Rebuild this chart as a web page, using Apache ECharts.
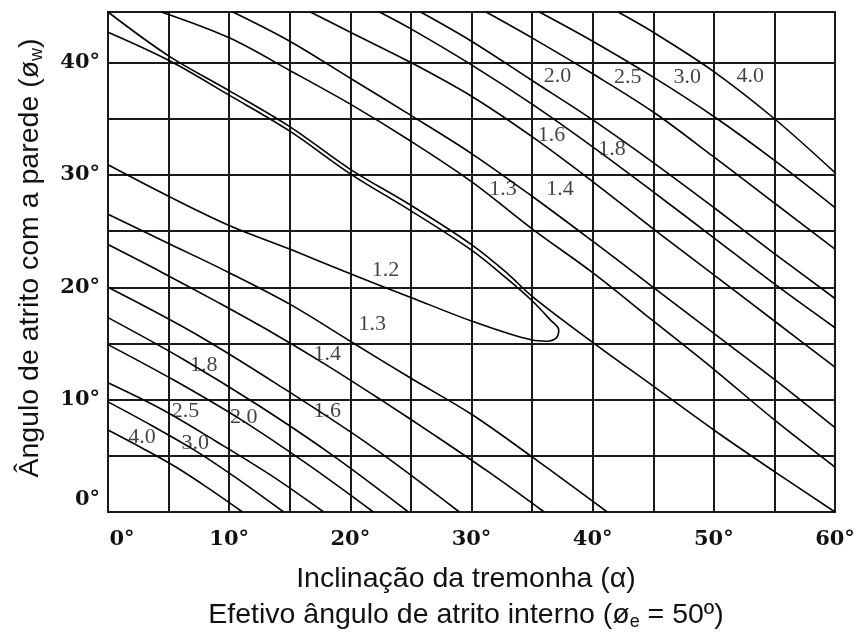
<!DOCTYPE html>
<html>
<head>
<meta charset="utf-8">
<script src="https://cdn.jsdelivr.net/npm/echarts@6/dist/echarts.min.js"></script>
<style>
html,body{margin:0;padding:0;background:#ffffff;}
#chart{width:860px;height:633px;}
</style>
</head>
<body>
<div id="chart"></div>
<script>
// ---- axis ticks / labels ----
const xTickValues = [0, 10, 20, 30, 40, 50, 60];
const yTickValues = [0, 10, 20, 30, 40];
const xTitle = 'Inclinação da tremonha (α)';
const xSubtitleParts = ['Efetivo ângulo de atrito interno (ø', 'e', ' = 50º)'];
const yTitleParts = ['Ângulo de atrito com a parede (ø', 'w', ')'];

// ---- contour curves: [alpha (deg), phi_w (deg)] ----
// upper family (values grow toward the upper right)
const upperBoundary = [[0,44.5],[5,40.6],[10,37.5],[15,34.3],[20,30.5],[25,27.3],[30,23.8],[33,21.2],[35,19.2],[40,15.1],[45,11.2],[50,7.3],[55,3.6],[60,0]];
const hairpin12 = [[0,42.7],[5,40.2],[10,37.1],[15,33.9],[20,30.1],[25,26.8],[30,23.3],[33,20.7],[35,18.8],[36.5,17.1],[37.2,16.2],[37,15.5],[36.2,15.2],[35,15.3],[30,17.0],[25,19.1],[20,21.2],[15,23.4],[10,25.5],[5,28.1],[0,30.9]];
const upper13 = [[4.4,44.5],[10,42.2],[15,39.3],[20,36.3],[25,33.0],[30,29.4],[35,25.2],[40,21.3],[45,17.0],[50,12.7],[55,8.2],[60,4.0]];
const upper14 = [[10.3,44.5],[15,41.9],[20,38.6],[25,35.3],[30,31.9],[35,28.1],[40,24.1],[45,20.0],[50,15.9],[55,11.8],[60,7.5]];
const upper16 = [[16.7,44.5],[20,42.7],[25,40.0],[30,37.0],[35,33.4],[40,29.4],[45,25.2],[50,21.1],[55,17.0],[60,12.9]];
const upper18 = [[22.4,44.5],[25,43.0],[30,39.8],[35,36.3],[40,32.5],[45,28.5],[50,24.4],[55,20.3],[60,16.4]];
const upper20 = [[25.8,44.5],[30,41.9],[35,38.4],[40,34.9],[45,31.1],[50,27.1],[55,23.0],[60,19.0]];
const upper25 = [[31.2,44.5],[35,42.2],[40,39.0],[45,35.6],[50,31.6],[55,27.5],[60,23.4]];
const upper30 = [[35.6,44.5],[40,41.9],[45,38.7],[50,35.2],[55,31.3],[60,27.1]];
const upper40 = [[42.1,44.5],[45,42.7],[50,39.2],[55,35.0],[60,30.2]];
// lower family (values grow toward the origin)
const lower13 = [[0,26.5],[5,23.9],[10,21.3],[15,18.5],[20,15.2],[25,11.9],[30,8.7],[35,4.9],[41.2,0]];
const lower14 = [[0,23.8],[4.5,21.3],[9,18.7],[13.5,16.0],[18,13.1],[22.5,10.0],[27,6.8],[31.5,3.5],[36,0]];
const lower16 = [[0,20.0],[7.3,15.8],[14.5,11.0],[21.8,5.8],[29.0,0]];
const lower18 = [[0,17.3],[6.2,13.6],[12.4,9.5],[18.6,5.0],[24.8,0]];
const lower20 = [[0,14.9],[5.5,11.7],[11.0,8.2],[16.4,4.3],[21.9,0]];
const lower25 = [[0,11.5],[4.5,9.1],[8.9,6.3],[13.4,3.3],[17.8,0]];
const lower30 = [[0,9.8],[3.6,7.7],[7.3,5.4],[10.9,2.8],[14.5,0]];
const lower40 = [[0,7.3],[2.8,5.7],[5.6,4.0],[8.3,2.1],[11.1,0]];

// ---- contour value labels: [alpha, phi_w, text] ----
const contourLabels = [
  [32.6,28.7,'1.3'],[37.3,28.7,'1.4'],[36.6,33.5,'1.6'],[41.6,32.3,'1.8'],
  [37.1,38.8,'2.0'],[42.9,38.7,'2.5'],[47.8,38.7,'3.0'],[53.0,38.8,'4.0'],
  [22.9,21.5,'1.2'],[21.8,16.7,'1.3'],[18.1,14.0,'1.4'],[18.1,9.0,'1.6'],
  [7.9,13.1,'1.8'],[11.2,8.4,'2.0'],[6.4,9.0,'2.5'],[7.2,6.1,'3.0'],[2.8,6.7,'4.0']
];

const curves = [upperBoundary, hairpin12, upper13, upper14, upper16, upper18, upper20, upper25, upper30, upper40,
  lower13, lower14, lower16, lower18, lower20, lower25, lower30, lower40];

const chart = echarts.init(document.getElementById('chart'), null, {renderer: 'canvas'});

const tickFont = {fontFamily: '"DejaVu Serif"', fontWeight: 'bold', fontSize: 21, color: '#111'};

const series = curves.map(function (c) {
  return {
    type: 'line', data: c, smooth: 0.35, symbol: 'none', showSymbol: false,
    lineStyle: {color: '#000', width: 1.6}, silent: true, animation: false, z: 3
  };
});
series.push({
  type: 'scatter',
  data: contourLabels,
  symbolSize: 1,
  itemStyle: {color: 'rgba(0,0,0,0)'},
  silent: true, animation: false, z: 5,
  label: {
    show: true, position: 'inside',
    formatter: function (p) { return p.value[2]; },
    fontFamily: '"Liberation Serif"', fontSize: 22, color: '#111'
  }
});

const option = {
  backgroundColor: '#ffffff',
  animation: false,
  grid: {left: 108, right: 25, top: 12, bottom: 121, containLabel: false, outerBoundsMode: 'none',
         show: true, borderColor: '#1a1a1a', borderWidth: 2, backgroundColor: 'transparent'},
  xAxis: {
    type: 'value', min: 0, max: 60, interval: 5,
    axisLine: {show: false}, axisTick: {show: false},
    splitLine: {show: true, lineStyle: {color: '#1a1a1a', width: 2}},
    axisLabel: {
      margin: 17,
      formatter: function (v) {
        if (xTickValues.indexOf(v) < 0) return '';
        return v === 0 ? '{z|' + v + '°}' : '{n|' + v + '°}';
      },
      rich: {
        n: tickFont,
        z: Object.assign({}, tickFont, {padding: [0, 0, 0, 28]})
      }
    }
  },
  yAxis: {
    type: 'value', min: 0, max: 44.5, interval: 5,
    axisLine: {show: false}, axisTick: {show: false},
    splitLine: {show: true, lineStyle: {color: '#1a1a1a', width: 2}},
    axisLabel: {
      margin: 8,
      formatter: function (v) {
        if (yTickValues.indexOf(v) < 0) return '';
        return v === 0 ? '{z|' + v + '°}' : '{n|' + v + '°}';
      },
      rich: {
        n: tickFont,
        z: Object.assign({}, tickFont, {padding: [0, 0, 24, 0]})
      }
    }
  },
  series: series,
  graphic: [
    {
      type: 'text', x: 466, y: 579, silent: true,
      style: {text: xTitle, font: '28.5px "Liberation Sans"', fill: '#111', textAlign: 'center', textVerticalAlign: 'middle'}
    },
    {
      type: 'text', x: 466, y: 615, silent: true,
      style: {
        text: '{m|' + xSubtitleParts[0] + '}{s|' + xSubtitleParts[1] + '}{m|' + xSubtitleParts[2] + '}',
        textAlign: 'center', textVerticalAlign: 'middle',
        rich: {
          m: {fontSize: 28.5, fontFamily: '"Liberation Sans"', fill: '#111', lineHeight: 32},
          s: {fontSize: 18, fontFamily: '"Liberation Sans"', fill: '#111', lineHeight: 14, verticalAlign: 'bottom'}
        }
      }
    },
    {
      type: 'text', x: 30, y: 258, rotation: Math.PI / 2, silent: true,
      style: {
        text: '{m|' + yTitleParts[0] + '}{s|' + yTitleParts[1] + '}{m|' + yTitleParts[2] + '}',
        textAlign: 'center', textVerticalAlign: 'middle',
        rich: {
          m: {fontSize: 28.5, fontFamily: '"Liberation Sans"', fill: '#111', lineHeight: 32},
          s: {fontSize: 18, fontFamily: '"Liberation Sans"', fill: '#111', lineHeight: 14, verticalAlign: 'bottom'}
        }
      }
    }
  ]
};
chart.setOption(option);
</script>
</body>
</html>
